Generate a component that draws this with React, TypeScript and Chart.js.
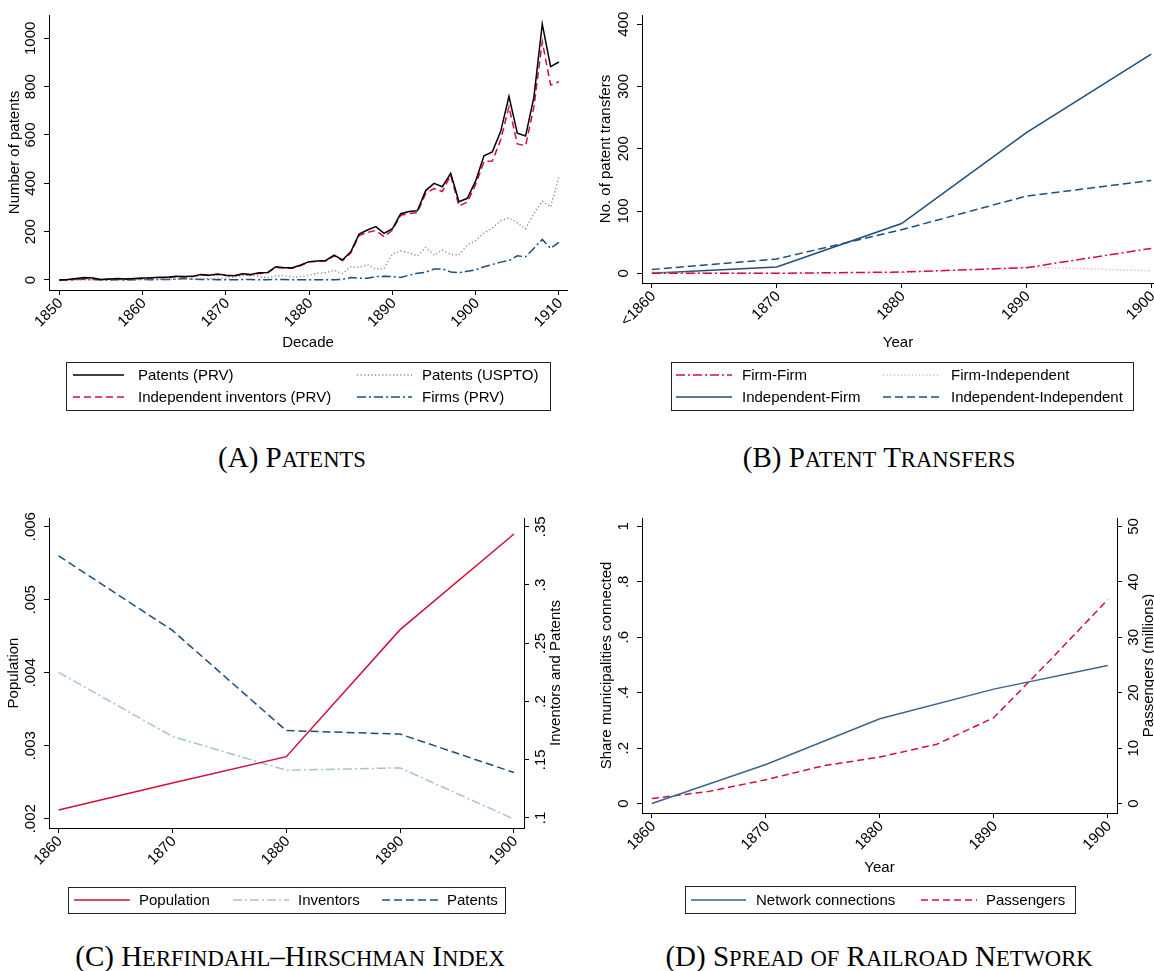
import React, { useEffect, useRef } from 'react';
import { Chart, registerables } from 'chart.js';

Chart.register(...registerables);

const SANS = '"Liberation Sans", Arial, Helvetica, sans-serif';
const SERIF = '"Liberation Serif", "Times New Roman", serif';
const RED = '#d0103a';
const NAVY = '#1f4e79';
const TICK_FONT = 15;

// ---------------- Panel A: Patents ----------------
const patentYears = [
  1850, 1851, 1852, 1853, 1854, 1855, 1856, 1857, 1858, 1859,
  1860, 1861, 1862, 1863, 1864, 1865, 1866, 1867, 1868, 1869,
  1870, 1871, 1872, 1873, 1874, 1875, 1876, 1877, 1878, 1879,
  1880, 1881, 1882, 1883, 1884, 1885, 1886, 1887, 1888, 1889,
  1890, 1891, 1892, 1893, 1894, 1895, 1896, 1897, 1898, 1899,
  1900, 1901, 1902, 1903, 1904, 1905, 1906, 1907, 1908, 1909,
  1910,
];
const patentsPRV = [
  0, 2, 6, 10, 8, 2, 4, 6, 4, 6,
  8, 9, 11, 11, 15, 14, 15, 23, 20, 25,
  20, 18, 26, 23, 30, 31, 55, 51, 51, 62,
  76, 79, 81, 103, 83, 117, 190, 207, 221, 193,
  212, 274, 283, 286, 370, 400, 386, 441, 324, 338,
  410, 514, 530, 614, 760, 607, 596, 758, 1059, 883,
  902,
];
const independentPRV = [
  0, 0, 3, 6, 6, 1, 3, 5, 3, 5,
  7, 8, 9, 10, 13, 12, 14, 21, 19, 23,
  19, 17, 24, 21, 27, 29, 52, 49, 49, 60,
  74, 77, 79, 100, 80, 112, 184, 197, 205, 179,
  207, 268, 275, 279, 358, 378, 366, 434, 306, 322,
  395, 490, 492, 579, 717, 563, 556, 717, 986, 807,
  820,
];
const patentsUSPTO = [
  0, 0, 1, 0, 1, 0, 1, 2, 1, 2,
  3, 2, 3, 4, 3, 5, 4, 6, 5, 7,
  8, 12, 18, 20, 14, 10, 16, 18, 12, 14,
  20, 28, 30, 40, 27, 55, 52, 64, 45, 47,
  108, 120, 112, 100, 135, 103, 124, 106, 104, 145,
  163, 194, 215, 245, 257, 236, 212, 276, 326, 302,
  428,
];
const firmsPRV = [
  0, 0, 2, 3, 2, 0, 0, 1, 0, 1,
  2, 1, 2, 2, 3, 6, 4, 2, 2, 1,
  1, 1, 2, 2, 1, 1, 2, 2, 1, 1,
  1, 1, 1, 1, 2, 10, 7, 7, 14, 15,
  14, 10, 20, 28, 32, 45, 46, 33, 30, 36,
  42, 55, 64, 74, 80, 100, 96, 131, 168, 131,
  156,
];
const patentXTicks = [1850, 1860, 1870, 1880, 1890, 1900, 1910];
const patentYTicks = [0, 200, 400, 600, 800, 1000];

// ---------------- Panel B: Patent transfers ----------------
const transferCategories = ['<1860', '1870', '1880', '1890', '1900'];
const firmFirm = [0, 0, 2, 9, 40];
const firmIndependent = [2, 0, 1, 10, 4];
const independentFirm = [0, 10, 80, 226, 352];
const independentIndependent = [6, 23, 70, 124, 149];
const transferYTicks = [0, 100, 200, 300, 400];

// ---------------- Panel C: HHI ----------------
const hhiYears = [1860, 1870, 1880, 1890, 1900];
const hhiPopulation = [0.00212, 0.00249, 0.00285, 0.00459, 0.0059];
const hhiInventors = [0.225, 0.17, 0.141, 0.143, 0.099];
const hhiPatents = [0.325, 0.261, 0.175, 0.172, 0.139];
const hhiLeftTicks = [0.002, 0.003, 0.004, 0.005, 0.006];
const hhiRightTicks = [0.1, 0.15, 0.2, 0.25, 0.3, 0.35];
const decadeTicks = [1860, 1870, 1880, 1890, 1900];

// ---------------- Panel D: Railroad ----------------
const railYears = [1860, 1870, 1880, 1890, 1900];
const networkShare = [0, 0.141, 0.306, 0.413, 0.498];
const passengerYears = [1860, 1865, 1870, 1875, 1880, 1885, 1890, 1895, 1900];
const passengersMillions = [0.9, 2.2, 4.3, 6.8, 8.4, 10.7, 15.5, 26, 36.8];
const railLeftTicks = [0, 0.2, 0.4, 0.6, 0.8, 1];
const railRightTicks = [0, 10, 20, 30, 40, 50];

const fmtDec = (v: number) => (v === 0 ? '0' : String(v).replace(/^0\./, '.'));
const fmtPlain = (v: number) => String(v);

function pts(xs: number[], ys: number[]) {
  return xs.map((x, i) => ({ x, y: ys[i] }));
}

function axisX(min: number, max: number, ticks: number[], height: number) {
  return {
    type: 'linear',
    position: 'bottom',
    min,
    max,
    afterBuildTicks: (s: any) => {
      s.ticks = ticks.map((v) => ({ value: v }));
    },
    afterFit: (s: any) => {
      s.height = height;
    },
    ticks: { display: false },
    grid: { display: true, drawOnChartArea: false, drawTicks: true, tickLength: 5, color: '#000', lineWidth: 1 },
    border: { display: true, color: '#000', width: 1 },
  };
}

function axisY(position: string, min: number, max: number, ticks: number[], width: number) {
  return {
    type: 'linear',
    position,
    min,
    max,
    afterBuildTicks: (s: any) => {
      s.ticks = ticks.map((v) => ({ value: v }));
    },
    afterFit: (s: any) => {
      s.width = width;
    },
    ticks: { display: false },
    grid: { display: true, drawOnChartArea: false, drawTicks: true, tickLength: 5, color: '#000', lineWidth: 1 },
    border: { display: true, color: '#000', width: 1 },
  };
}

function makeStataPlugin(cfg: any) {
  return {
    id: 'stata',
    afterDraw(chart: any) {
      const ctx = chart.ctx;
      const ca = chart.chartArea;
      ctx.save();
      ctx.fillStyle = '#000';
      (cfg.yAxes || []).forEach((ax: any) => {
        const sc = chart.scales[ax.id];
        ctx.font = `${TICK_FONT}px ${SANS}`;
        ctx.textAlign = 'center';
        ctx.textBaseline = 'alphabetic';
        const bx = ax.side === 'left' ? ca.left - 14 : ca.right + 20.5;
        sc.ticks.forEach((t: any) => {
          const py = sc.getPixelForValue(t.value);
          ctx.save();
          ctx.translate(bx, py);
          ctx.rotate(-Math.PI / 2);
          ctx.fillText(ax.fmt(t.value), 0, 0);
          ctx.restore();
        });
        if (ax.title) {
          ctx.font = `15px ${SANS}`;
          ctx.textBaseline = 'middle';
          ctx.save();
          ctx.translate(ax.titleX, (ca.top + ca.bottom) / 2);
          ctx.rotate(-Math.PI / 2);
          ctx.fillText(ax.title, 0, 0);
          ctx.restore();
        }
      });
      const xa = cfg.xAxis;
      if (xa) {
        const sc = chart.scales[xa.id];
        ctx.font = `${TICK_FONT}px ${SANS}`;
        ctx.textAlign = 'right';
        ctx.textBaseline = 'middle';
        sc.ticks.forEach((t: any) => {
          const px = sc.getPixelForValue(t.value);
          ctx.save();
          ctx.translate(px + 1.5, ca.bottom + 11);
          ctx.rotate(-Math.PI / 4);
          ctx.fillText(xa.fmt(t.value), 0, 0);
          ctx.restore();
        });
        if (xa.title) {
          ctx.font = `15px ${SANS}`;
          ctx.textAlign = 'center';
          ctx.textBaseline = 'middle';
          ctx.fillText(xa.title, (ca.left + ca.right) / 2, xa.titleY);
        }
      }
      const lg = cfg.legend;
      if (lg) {
        const [l, t, r, b] = lg.box;
        ctx.strokeStyle = '#222';
        ctx.lineWidth = 1;
        ctx.setLineDash([]);
        ctx.strokeRect(Math.round(l) + 0.5, Math.round(t) + 0.5, Math.round(r - l), Math.round(b - t));
        lg.items.forEach((it: any) => {
          const ds = chart.data.datasets[it.ds];
          const y = lg.rows[it.row];
          const c = lg.cols[it.col];
          ctx.strokeStyle = ds.borderColor;
          ctx.lineWidth = ds.borderWidth;
          ctx.setLineDash(ds.borderDash || []);
          ctx.beginPath();
          ctx.moveTo(c[0], y);
          ctx.lineTo(c[1], y);
          ctx.stroke();
          ctx.setLineDash([]);
          ctx.font = `15px ${SANS}`;
          ctx.textAlign = 'left';
          ctx.textBaseline = 'middle';
          ctx.fillStyle = '#000';
          ctx.fillText(ds.label, c[2], y + 1);
        });
      }
      ctx.restore();
    },
  };
}

function baseOptions(padding: any, scales: any) {
  return {
    responsive: false,
    maintainAspectRatio: false,
    animation: false,
    devicePixelRatio: 1,
    events: [],
    layout: { padding },
    plugins: { legend: { display: false }, title: { display: false }, tooltip: { enabled: false } },
    elements: { point: { radius: 0 }, line: { tension: 0 } },
    scales,
  };
}

function lineDs(label: string, data: any[], color: string, dash: number[], width: number, yAxisID = 'y') {
  return {
    label,
    data,
    borderColor: color,
    backgroundColor: color,
    borderDash: dash,
    borderWidth: width,
    pointRadius: 0,
    fill: false,
    yAxisID,
  };
}

function configA() {
  return {
    type: 'line',
    data: {
      datasets: [
        lineDs('Patents (PRV)', pts(patentYears, patentsPRV), '#000000', [], 1.5),
        lineDs('Independent inventors (PRV)', pts(patentYears, independentPRV), RED, [7, 4], 1.5),
        lineDs('Patents (USPTO)', pts(patentYears, patentsUSPTO), '#8a8a8a', [1.2, 2.4], 1.4),
        lineDs('Firms (PRV)', pts(patentYears, firmsPRV), NAVY, [9, 3, 2, 3], 1.5),
      ],
    },
    options: baseOptions(
      { left: 0, top: 15, right: 10, bottom: 80 },
      {
        x: axisX(1848.76, 1910.97, patentXTicks, 60),
        y: axisY('left', -41.4, 1096.4, patentYTicks, 49),
      }
    ),
    plugins: [
      makeStataPlugin({
        yAxes: [{ id: 'y', side: 'left', fmt: fmtPlain, title: 'Number of patents', titleX: 15 }],
        xAxis: { id: 'x', fmt: fmtPlain, title: 'Decade', titleY: 343 },
        legend: {
          box: [66, 362, 550, 410],
          rows: [375, 397],
          cols: [
            [73, 124, 138],
            [357, 412, 422],
          ],
          items: [
            { ds: 0, row: 0, col: 0 },
            { ds: 2, row: 0, col: 1 },
            { ds: 1, row: 1, col: 0 },
            { ds: 3, row: 1, col: 1 },
          ],
        },
      }),
    ],
  };
}

function configB() {
  const idx = transferCategories.map((_, i) => i);
  return {
    type: 'line',
    data: {
      datasets: [
        lineDs('Firm-Firm', pts(idx, firmFirm), RED, [9, 3, 2, 3], 1.5),
        lineDs('Firm-Independent', pts(idx, firmIndependent), '#f2a6bd', [1.2, 2.4], 1.4),
        lineDs('Independent-Firm', pts(idx, independentFirm), NAVY, [], 1.5),
        lineDs('Independent-Independent', pts(idx, independentIndependent), NAVY, [8, 4], 1.5),
      ],
    },
    options: baseOptions(
      { left: 0, top: 15, right: 0, bottom: 87 },
      {
        x: axisX(-0.079, 4.022, idx, 60),
        y: axisY('left', -15.6, 414.9, transferYTicks, 65),
      }
    ),
    plugins: [
      makeStataPlugin({
        yAxes: [{ id: 'y', side: 'left', fmt: fmtPlain, title: 'No. of patent transfers', titleX: 29 }],
        xAxis: { id: 'x', fmt: (v: number) => transferCategories[v], title: 'Year', titleY: 343 },
        legend: {
          box: [94, 362, 556, 410],
          rows: [375, 397],
          cols: [
            [99, 155, 165],
            [306, 363, 374],
          ],
          items: [
            { ds: 0, row: 0, col: 0 },
            { ds: 1, row: 0, col: 1 },
            { ds: 2, row: 1, col: 0 },
            { ds: 3, row: 1, col: 1 },
          ],
        },
      }),
    ],
  };
}

function configC() {
  return {
    type: 'line',
    data: {
      datasets: [
        lineDs('Population', pts(hhiYears, hhiPopulation), RED, [], 1.5, 'y'),
        lineDs('Inventors', pts(hhiYears, hhiInventors), '#a6c6bb', [9, 3, 2, 3], 1.5, 'y2'),
        lineDs('Patents', pts(hhiYears, hhiPatents), NAVY, [8, 4], 1.5, 'y2'),
      ],
    },
    options: baseOptions(
      { left: 0, top: 28, right: 0, bottom: 42 },
      {
        x: axisX(1859.16, 1900.88, decadeTicks, 60),
        y: axisY('left', 0.001873, 0.006119, hhiLeftTicks, 49),
        y2: axisY('right', 0.0914, 0.3575, hhiRightTicks, 53),
      }
    ),
    plugins: [
      makeStataPlugin({
        yAxes: [
          { id: 'y', side: 'left', fmt: fmtDec, title: 'Population', titleX: 14 },
          { id: 'y2', side: 'right', fmt: fmtDec, title: 'Inventors and Patents', titleX: 556 },
        ],
        xAxis: { id: 'x', fmt: fmtPlain },
        legend: {
          box: [68, 397, 505, 423],
          rows: [410],
          cols: [
            [74, 130, 139],
            [233, 289, 298],
            [382, 438, 447],
          ],
          items: [
            { ds: 0, row: 0, col: 0 },
            { ds: 1, row: 0, col: 1 },
            { ds: 2, row: 0, col: 2 },
          ],
        },
      }),
    ],
  };
}

function configD() {
  return {
    type: 'line',
    data: {
      datasets: [
        lineDs('Network connections', pts(railYears, networkShare), '#3b6590', [], 1.5, 'y'),
        lineDs('Passengers', pts(passengerYears, passengersMillions), RED, [7, 4], 1.5, 'y2'),
      ],
    },
    options: baseOptions(
      { left: 0, top: 28, right: 0, bottom: 57 },
      {
        x: axisX(1859.13, 1900.81, decadeTicks, 60),
        y: axisY('left', -0.034, 1.0304, railLeftTicks, 65),
        y2: axisY('right', -1.7, 51.52, railRightTicks, 37),
      }
    ),
    plugins: [
      makeStataPlugin({
        yAxes: [
          { id: 'y', side: 'left', fmt: fmtDec, title: 'Share municipalities connected', titleX: 29.5 },
          { id: 'y2', side: 'right', fmt: fmtPlain, title: 'Passengers (millions)', titleX: 571.5 },
        ],
        xAxis: { id: 'x', fmt: fmtPlain, title: 'Year', titleY: 378 },
        legend: {
          box: [108, 396, 498, 423],
          rows: [410],
          cols: [
            [114, 169, 179],
            [344, 400, 409],
          ],
          items: [
            { ds: 0, row: 0, col: 0 },
            { ds: 1, row: 0, col: 1 },
          ],
        },
      }),
    ],
  };
}

function Panel(props: { left: number; top: number; width: number; height: number; make: () => any }) {
  const ref = useRef<HTMLCanvasElement>(null);
  useEffect(() => {
    const chart = new Chart(ref.current as HTMLCanvasElement, props.make());
    return () => chart.destroy();
  }, []);
  return (
    <canvas
      ref={ref}
      width={props.width}
      height={props.height}
      style={{ position: 'absolute', left: props.left, top: props.top, width: props.width, height: props.height }}
    />
  );
}

// Small caps: capitals at full size, lower-case letters as capitals at reduced size
function Caption(props: { cx: number; cy: number; text: string }) {
  const runs: { t: string; small: boolean }[] = [];
  for (const ch of props.text) {
    const small = ch >= 'a' && ch <= 'z';
    const last = runs[runs.length - 1];
    if (last && last.small === small) last.t += small ? ch.toUpperCase() : ch;
    else runs.push({ t: small ? ch.toUpperCase() : ch, small });
  }
  return (
    <div
      style={{
        position: 'absolute',
        left: props.cx,
        top: props.cy,
        transform: 'translate(-50%, -50%)',
        whiteSpace: 'pre',
        fontFamily: SERIF,
        fontSize: 29,
        lineHeight: 1,
        color: '#000',
      }}
    >
      {runs.map((r, i) => (
        <span key={i} style={{ fontSize: r.small ? '0.78em' : '1em' }}>
          {r.t}
        </span>
      ))}
    </div>
  );
}

export default function App() {
  return (
    <div
      style={{
        position: 'absolute',
        left: 0,
        top: 0,
        width: 1154,
        height: 971,
        overflow: 'hidden',
        background: '#fff',
      }}
    >
      <Panel left={0} top={0} width={577} height={430} make={configA} />
      <Panel left={577} top={0} width={577} height={430} make={configB} />
      <Panel left={0} top={490} width={577} height={440} make={configC} />
      <Panel left={577} top={490} width={577} height={440} make={configD} />
      <Caption cx={292} cy={457} text="(A) Patents" />
      <Caption cx={879} cy={457} text="(B) Patent Transfers" />
      <Caption cx={290} cy={956} text={'(C) Herfindahl\u2013Hirschman Index'} />
      <Caption cx={879} cy={956} text="(D) Spread of Railroad Network" />
    </div>
  );
}
